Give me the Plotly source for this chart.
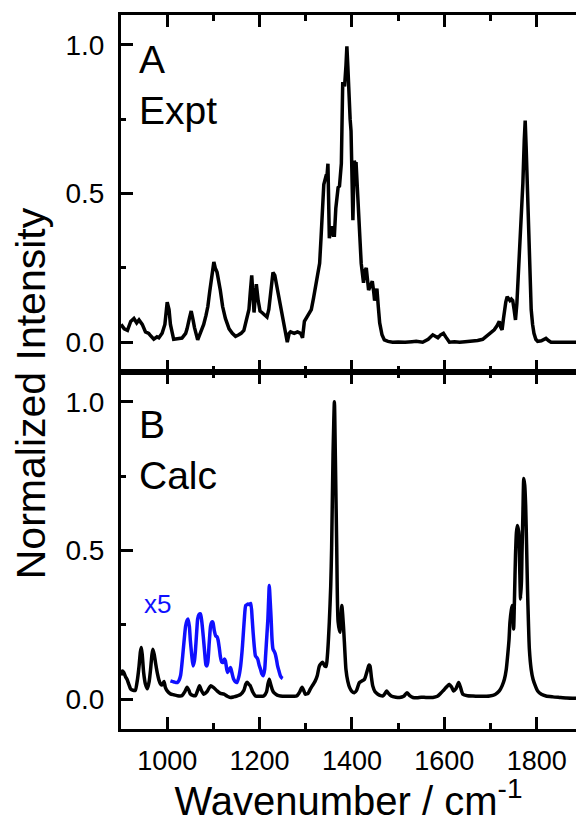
import plotly.graph_objects as go

# ---------------- data ----------------
expt_x = [900, 907, 914, 921, 928, 934, 939, 946, 953, 960, 964, 971, 978, 982, 989, 995,
          1000, 1004, 1007, 1014, 1022, 1032, 1040, 1043, 1048, 1052, 1056, 1059, 1066, 1072,
          1079, 1084, 1088, 1092, 1095, 1099, 1101, 1104, 1108, 1115, 1120, 1126, 1134, 1141,
          1148, 1155, 1160, 1166, 1172, 1177, 1180, 1183, 1186, 1188, 1191, 1193, 1197, 1201,
          1205, 1209, 1216, 1220, 1224, 1229, 1233, 1238, 1243, 1249, 1255, 1260, 1264, 1267,
          1275, 1282, 1289, 1293, 1297, 1305, 1312, 1317, 1322, 1326, 1330, 1333, 1335, 1339,
          1344, 1346, 1348, 1350, 1351, 1354, 1357, 1360, 1362, 1365, 1367, 1370, 1373, 1377,
          1380, 1384, 1387, 1389, 1391, 1393, 1396, 1398, 1400, 1402, 1405, 1407, 1409, 1412,
          1414, 1417, 1420, 1425, 1428, 1431, 1434, 1436, 1440, 1444, 1447, 1449, 1452, 1454,
          1457, 1460, 1465, 1470, 1478, 1488, 1500, 1515, 1530, 1539, 1553, 1565, 1575, 1580,
          1586, 1592, 1598, 1603, 1607, 1611, 1622, 1633, 1645, 1661, 1672, 1683, 1690, 1698,
          1703, 1708, 1714, 1719, 1722, 1725, 1728, 1730, 1733, 1736, 1739, 1742, 1745, 1748,
          1751, 1754, 1757, 1759, 1762, 1764, 1767, 1770, 1773, 1775, 1777, 1779, 1781, 1783,
          1786, 1788, 1791, 1794, 1798, 1802, 1810, 1815, 1820, 1826, 1831, 1850, 1870, 1885]
expt_y = [0.06, 0.045, 0.04, 0.07, 0.08, 0.065, 0.075, 0.06, 0.035, 0.03, 0.022, 0.01, 0.018, 0.015, 0.03, 0.06,
          0.135, 0.11, 0.06, 0.01, 0.012, 0.014, 0.03, 0.045, 0.08, 0.105, 0.075, 0.05, 0.008, 0.03,
          0.06, 0.09, 0.12, 0.17, 0.21, 0.255, 0.27, 0.25, 0.235, 0.175, 0.12, 0.08, 0.045, 0.03,
          0.02, 0.025, 0.03, 0.04, 0.08, 0.11, 0.17, 0.225, 0.15, 0.1, 0.16, 0.195, 0.14, 0.105,
          0.1, 0.095, 0.085, 0.11, 0.17, 0.235, 0.225, 0.185, 0.14, 0.095, 0.05, 0.0, 0.03, 0.035,
          0.03, 0.035, 0.03, 0.015, 0.07, 0.09, 0.11, 0.15, 0.195, 0.23, 0.265, 0.35, 0.43, 0.53,
          0.56, 0.56, 0.6, 0.45, 0.35, 0.37, 0.39, 0.36, 0.36, 0.45, 0.49, 0.52, 0.525, 0.6,
          0.875, 0.86, 0.93, 0.995, 0.93, 0.83, 0.75, 0.71, 0.55, 0.41, 0.61, 0.6, 0.6, 0.5,
          0.42, 0.33, 0.265, 0.2, 0.24, 0.25, 0.2, 0.175, 0.19, 0.205, 0.17, 0.14, 0.165, 0.18,
          0.12, 0.065, 0.025, 0.008, 0.003, 0.0, 0.001, 0.0, 0.002, 0.003, 0.0, 0.01, 0.025, 0.02,
          0.015, 0.025, 0.03, 0.018, 0.008, 0.0, 0.002, 0.0, 0.002, 0.003, 0.006, 0.01, 0.02, 0.03,
          0.035, 0.042, 0.055, 0.07, 0.05, 0.042, 0.08, 0.11, 0.135, 0.153, 0.145, 0.14, 0.145, 0.14,
          0.11, 0.075, 0.13, 0.19, 0.25, 0.31, 0.42, 0.535, 0.68, 0.745, 0.66, 0.54, 0.42, 0.31,
          0.19, 0.11, 0.06, 0.03, 0.01, 0.003, 0.005, 0.01, 0.013, 0.005, 0.0, 0.0, 0.0, 0.0]

calc_x = [900, 903, 906, 910, 913, 917, 921, 926, 931, 935, 939, 942, 944, 946, 949, 953, 957, 961,
          964, 967, 969, 972, 975, 979, 982, 986, 989, 993, 996, 1000, 1007, 1014, 1022, 1032, 1038,
          1043, 1047, 1050, 1055, 1061, 1066, 1070, 1074, 1079, 1086, 1094, 1100, 1108, 1115, 1123,
          1130, 1137, 1144, 1151, 1158, 1166, 1170, 1173, 1177, 1180, 1185, 1191, 1200, 1209, 1215,
          1218, 1221, 1224, 1228, 1231, 1238, 1245, 1260, 1275, 1281, 1287, 1292, 1296, 1299, 1305,
          1310, 1314, 1320, 1325, 1329, 1332, 1337, 1341, 1344, 1347, 1351, 1354, 1356, 1359, 1362,
          1364, 1367, 1370, 1374, 1378, 1382, 1385, 1387, 1391, 1395, 1400, 1405, 1410, 1416, 1422,
          1427, 1431, 1434, 1437, 1439, 1442, 1445, 1450, 1456, 1462, 1467, 1471, 1475, 1479, 1485,
          1495, 1503, 1512, 1519, 1525, 1532, 1541, 1550, 1560, 1575, 1585, 1592, 1597, 1604, 1611,
          1616, 1620, 1625, 1631, 1635, 1640, 1650, 1662, 1680, 1698, 1710, 1719, 1725, 1730, 1734,
          1737, 1740, 1742, 1745, 1747, 1749, 1750, 1752, 1754, 1756, 1758, 1761, 1763, 1765, 1767,
          1768, 1770, 1772, 1774, 1776, 1778, 1780, 1782, 1784, 1788, 1792, 1797, 1802, 1810, 1820,
          1835, 1849, 1865, 1885]
calc_y = [0.08, 0.095, 0.09, 0.075, 0.067, 0.05, 0.034, 0.03, 0.03, 0.06, 0.11, 0.16, 0.174, 0.15, 0.09, 0.05, 0.035, 0.06,
          0.1, 0.15, 0.168, 0.15, 0.12, 0.085, 0.065, 0.05, 0.048, 0.06, 0.04, 0.028, 0.018, 0.015, 0.012, 0.012, 0.025,
          0.04, 0.03, 0.018, 0.013, 0.012, 0.03, 0.045, 0.03, 0.017, 0.025, 0.045, 0.04, 0.028, 0.02, 0.017,
          0.01, 0.006, 0.008, 0.011, 0.015, 0.03, 0.05, 0.057, 0.05, 0.045, 0.025, 0.011, 0.01, 0.011, 0.025,
          0.05, 0.067, 0.05, 0.03, 0.022, 0.014, 0.011, 0.01, 0.01, 0.012, 0.025, 0.04, 0.028, 0.017, 0.02,
          0.035, 0.045, 0.06, 0.08, 0.11, 0.118, 0.124, 0.112, 0.11, 0.15, 0.26, 0.38, 0.51, 0.82, 1.0,
          0.82, 0.51, 0.26, 0.225, 0.315, 0.236, 0.15, 0.1, 0.06, 0.039, 0.026, 0.022, 0.03, 0.056, 0.062,
          0.067, 0.085, 0.101, 0.115, 0.112, 0.075, 0.045, 0.025, 0.017, 0.012, 0.011, 0.018, 0.028, 0.02, 0.011,
          0.007, 0.006, 0.01, 0.022, 0.012, 0.006, 0.005, 0.007, 0.006, 0.006, 0.01, 0.02, 0.028, 0.04, 0.05,
          0.04, 0.028, 0.035, 0.056, 0.04, 0.017, 0.012, 0.011, 0.01, 0.011, 0.016, 0.028, 0.045, 0.067, 0.1,
          0.146, 0.2, 0.258, 0.3, 0.315, 0.28, 0.236, 0.35, 0.483, 0.56, 0.584, 0.562, 0.45, 0.337, 0.4,
          0.483, 0.62, 0.742, 0.72, 0.652, 0.52, 0.371, 0.26, 0.169, 0.1, 0.067, 0.045, 0.028, 0.017, 0.011,
          0.008, 0.006, 0.004, 0.003]

x5_x = [1007, 1015, 1022, 1026, 1029, 1032, 1035, 1038, 1040, 1043, 1045, 1048, 1050, 1053, 1056, 1059,
        1061, 1064, 1066, 1069, 1072, 1075, 1078, 1081, 1084, 1086, 1088, 1091, 1094, 1097, 1099, 1102,
        1105, 1108, 1110, 1113, 1115, 1118, 1121, 1124, 1126, 1129, 1131, 1134, 1137, 1140, 1144, 1148,
        1151, 1155, 1159, 1162, 1164, 1167, 1170, 1173, 1175, 1178, 1181, 1184, 1186, 1189, 1191, 1194,
        1196, 1199, 1202, 1205, 1208, 1211, 1213, 1216, 1218, 1220, 1221, 1223, 1225, 1227, 1229, 1232,
        1234, 1237, 1239, 1242, 1245, 1248, 1250]
x5_y = [0.062, 0.058, 0.056, 0.065, 0.08, 0.12, 0.17, 0.22, 0.247, 0.265, 0.27, 0.245, 0.2, 0.15, 0.112, 0.13,
        0.16, 0.23, 0.27, 0.285, 0.287, 0.26, 0.213, 0.16, 0.115, 0.112, 0.125, 0.19, 0.247, 0.26, 0.258, 0.23,
        0.213, 0.21, 0.2, 0.17, 0.145, 0.125, 0.124, 0.135, 0.129, 0.1, 0.09, 0.1, 0.107, 0.09, 0.067, 0.058,
        0.056, 0.075, 0.112, 0.16, 0.202, 0.27, 0.315, 0.318, 0.32, 0.318, 0.322, 0.27, 0.225, 0.17, 0.146, 0.14,
        0.135, 0.115, 0.101, 0.085, 0.079, 0.1, 0.146, 0.22, 0.27, 0.35, 0.382, 0.33, 0.27, 0.2, 0.169, 0.16,
        0.152, 0.13, 0.112, 0.095, 0.079, 0.072, 0.07]

x_range = [900, 1885]
y_range = [-0.1, 1.1]
y_ticks = [0.0, 0.5, 1.0]
y_ticklabels = ["0.0", "0.5", "1.0"]

FONT = "Arial, Liberation Sans, sans-serif"

fig = go.Figure()
fig.add_trace(go.Scatter(x=expt_x, y=expt_y, mode="lines", xaxis="x", yaxis="y",
                         line=dict(color="black", width=3.5), showlegend=False))
fig.add_trace(go.Scatter(x=calc_x, y=calc_y, mode="lines", xaxis="x2", yaxis="y2",
                         line=dict(color="black", width=3.5, shape="spline", smoothing=0.6),
                         showlegend=False))
fig.add_trace(go.Scatter(x=x5_x, y=x5_y, mode="lines", xaxis="x2", yaxis="y2",
                         line=dict(color="#1010ff", width=3.5, shape="spline", smoothing=0.6),
                         showlegend=False))

xcommon = dict(range=x_range, showline=True, linewidth=3, linecolor="black", mirror="ticks",
               ticks="inside", ticklen=12, tickwidth=3, tickcolor="black", tick0=1000, dtick=200,
               minor=dict(ticks="inside", ticklen=6, tickwidth=3, tickcolor="black", tick0=1000, dtick=100),
               showgrid=False, zeroline=False,
               tickfont=dict(family=FONT, size=27, color="black"))
ycommon = dict(range=y_range, showline=True, linewidth=3, linecolor="black", mirror=False,
               ticks="inside", ticklen=12, tickwidth=3, tickcolor="black",
               tickvals=y_ticks, ticktext=y_ticklabels,
               minor=dict(ticks="inside", ticklen=5, tickwidth=3, tickcolor="black", tick0=0, dtick=0.25),
               showgrid=False, zeroline=False, ticklabelstandoff=8,
               tickfont=dict(family=FONT, size=28, color="black"))
yright = dict(range=y_range, showline=False, ticks="inside", ticklen=6, tickwidth=3,
              tickcolor="black", tickvals=y_ticks, showticklabels=False, showgrid=False,
              zeroline=False, side="right")

fig.update_layout(
    width=576, height=823,
    margin=dict(l=121, r=0, t=15, b=94),
    plot_bgcolor="white", paper_bgcolor="white",
    xaxis=dict(**xcommon, anchor="y", domain=[0, 1], showticklabels=False, matches="x2"),
    xaxis2=dict(**xcommon, anchor="y2", domain=[0, 1], showticklabels=True, ticklabelstandoff=6,
                title=dict(text="Wavenumber / cm<sup>-1</sup>", standoff=4,
                           font=dict(family=FONT, size=40, color="black"))),
    yaxis=dict(**ycommon, anchor="x", domain=[0.5, 1]),
    yaxis2=dict(**ycommon, anchor="x2", domain=[0, 0.5]),
    yaxis3=dict(**yright, overlaying="y", anchor="x"),
    yaxis4=dict(**yright, overlaying="y2", anchor="x2"),
    annotations=[
        dict(text="Normalized Intensity", xref="paper", yref="paper", x=-0.196, y=0.47,
             textangle=-90, showarrow=False, xanchor="center", yanchor="middle",
             font=dict(family=FONT, size=41, color="black")),
        dict(text="A<br>Expt", xref="paper", yref="paper", x=0.035, y=0.97,
             showarrow=False, xanchor="left", yanchor="top", align="left",
             font=dict(family=FONT, size=39, color="black")),
        dict(text="B<br>Calc", xref="paper", yref="paper", x=0.035, y=0.46,
             showarrow=False, xanchor="left", yanchor="top", align="left",
             font=dict(family=FONT, size=39, color="black")),
        dict(text="x5", xref="paper", yref="paper", x=0.047, y=0.175,
             showarrow=False, xanchor="left", yanchor="middle",
             font=dict(family=FONT, size=26, color="#1010ff")),
    ],
)

# remove the browser's default 8px page margin so the fixed-size figure fills the window
fig.write_html("out.html",
               config={"displayModeBar": False},
               post_script="document.body.style.margin='0';"
                           "document.documentElement.style.overflow='hidden';")
